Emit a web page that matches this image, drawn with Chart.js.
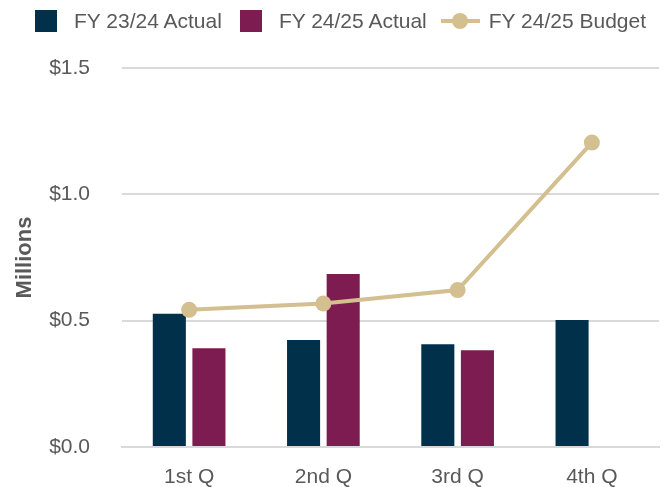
<!DOCTYPE html>
<html>
<head>
<meta charset="utf-8">
<script src="https://cdn.jsdelivr.net/npm/chart.js@4.4.1/dist/chart.umd.min.js"></script>
<style>
  html, body { margin: 0; padding: 0; background: #fff; }
  #wrap { position: relative; width: 667px; height: 487px; }
  #chart { position: absolute; left: 0; top: 0; }
  #legend {
    position: absolute; left: 35px; top: 9px; height: 24px;
    display: flex; align-items: center;
    font: 21px "Liberation Sans", Arial, sans-serif; color: #595959;
    white-space: nowrap;
  }
  .box { width: 22px; height: 22px; margin-right: 17px; }
  .txt { margin-right: 18px; }
  .line { position: relative; width: 39px; height: 4px; margin-right: 9px; margin-left: -4px; }
  .line .dot { position: absolute; left: 11px; top: -6px; width: 16px; height: 16px; border-radius: 50%; }
</style>
</head>
<body>
<div id="wrap">
  <canvas id="chart" width="667" height="487"></canvas>
  <div id="legend"></div>
</div>
<script>
  const quarters = ["1st Q", "2nd Q", "3rd Q", "4th Q"];
  const fy2324Actual = [0.527, 0.423, 0.407, 0.503];
  const fy2425Actual = [0.391, 0.685, 0.383, null];
  const fy2425Budget = [0.543, 0.568, 0.621, 1.205];
  const yTicks = [0, 0.5, 1.0, 1.5];

  const navy = "#00304a";
  const maroon = "#7c1c50";
  const gold = "#d3bf8f";
  const textGray = "#595959";
  const fontFamily = '"Liberation Sans", Arial, sans-serif';

  const datasets = [
    {
      type: "bar",
      label: "FY 23/24 Actual",
      data: fy2324Actual,
      backgroundColor: navy,
      categoryPercentage: 0.59,
      barPercentage: 0.835,
      order: 2,
    },
    {
      type: "bar",
      label: "FY 24/25 Actual",
      data: fy2425Actual,
      backgroundColor: maroon,
      categoryPercentage: 0.59,
      barPercentage: 0.835,
      order: 2,
    },
    {
      type: "line",
      label: "FY 24/25 Budget",
      data: fy2425Budget,
      borderColor: gold,
      backgroundColor: gold,
      borderWidth: 4,
      pointRadius: 8,
      pointHoverRadius: 8,
      pointBorderWidth: 0,
      tension: 0,
      order: 1,
    },
  ];

  new Chart(document.getElementById("chart"), {
    data: { labels: quarters, datasets },
    options: {
      responsive: false,
      animation: false,
      events: [],
      layout: { padding: { top: 68, right: 5, bottom: 0, left: 0 } },
      plugins: { legend: { display: false }, tooltip: { enabled: false } },
      scales: {
        x: {
          afterFit: (s) => { s.height = 40; },
          grid: { display: false, drawTicks: false },
          border: { display: true, color: "#d9d9d9", width: 2 },
          ticks: { color: textGray, font: { family: fontFamily, size: 21 }, padding: 18 },
        },
        y: {
          min: 0,
          max: 1.5,
          // fixed axis width; keep the label gap from eating into the plot height
          afterFit: (s) => { s.width = 122; s.paddingTop = 12; s.paddingBottom = 12; },
          afterBuildTicks: (axis) => { axis.ticks = yTicks.map((v) => ({ value: v })); },
          grid: { color: "#d9d9d9", lineWidth: 2, drawTicks: false },
          border: { display: false },
          ticks: {
            color: textGray,
            font: { family: fontFamily, size: 21 },
            padding: 32,
            callback: (v) => "$" + Number(v).toFixed(1),
          },
          title: {
            display: true,
            text: "Millions",
            color: textGray,
            font: { family: fontFamily, size: 22, weight: "bold" },
            padding: { top: 12, bottom: 0 },
          },
        },
      },
    },
  });

  // legend built from the dataset labels and colours
  const legendEl = document.getElementById("legend");
  legendEl.innerHTML = datasets
    .map((d) => {
      if (d.type === "line") {
        return `<span class="line" style="background:${d.borderColor}"><span class="dot" style="background:${d.borderColor}"></span></span><span class="txt">${d.label}</span>`;
      }
      return `<span class="box" style="background:${d.backgroundColor}"></span><span class="txt">${d.label}</span>`;
    })
    .join("");
</script>
</body>
</html>
